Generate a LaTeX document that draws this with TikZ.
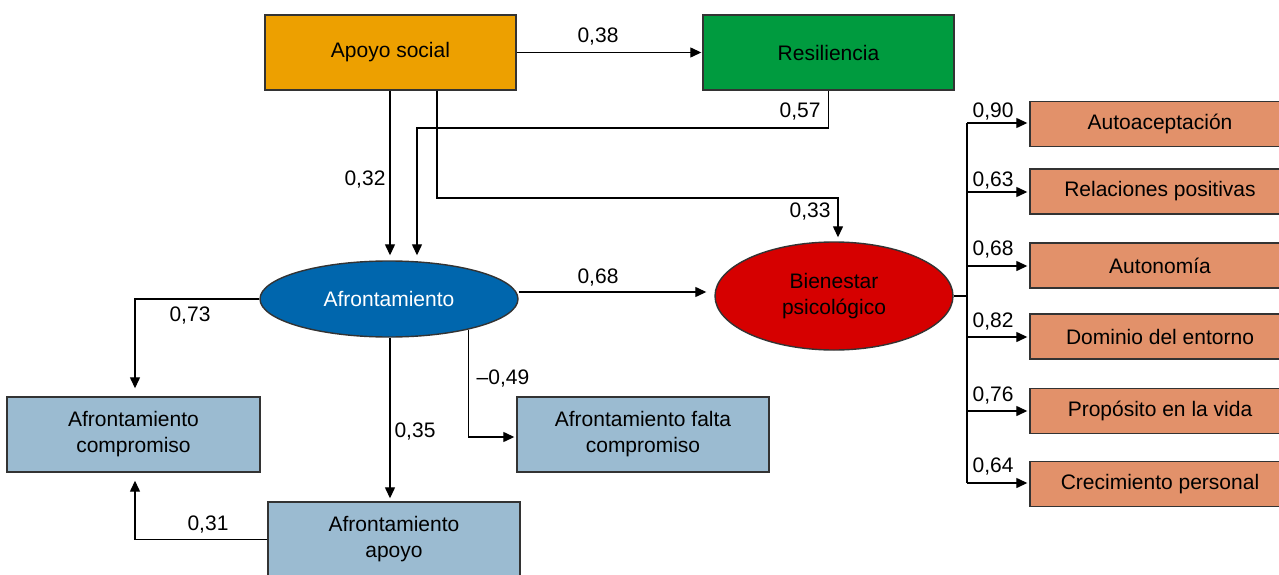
\documentclass[tikz,border=0pt]{standalone}
\usepackage{fontspec}
\setmainfont{Liberation Sans}
\usetikzlibrary{arrows.meta,shapes.geometric,calc}
\definecolor{cOrange}{HTML}{EDA000}
\definecolor{cGreen}{HTML}{009B3F}
\definecolor{cBlue}{HTML}{0066AD}
\definecolor{cRed}{HTML}{D60000}
\definecolor{cLight}{HTML}{9BBBD1}
\definecolor{cSalmon}{HTML}{E2916A}
\definecolor{cBorder}{HTML}{333333}
\tikzset{
  box/.style={draw=cBorder, line width=1.4pt, rectangle, minimum width=251pt, minimum height=75pt, inner sep=0pt, align=center, font=\fontsize{21}{26}\selectfont},
  ell/.style={draw=cBorder, line width=1.4pt, ellipse, inner sep=0pt, align=center, font=\fontsize{21}{26}\selectfont},
  dim/.style={draw=cBorder, line width=1.4pt, rectangle, minimum width=260pt, minimum height=45pt, inner sep=0pt, fill=cSalmon, font=\fontsize{21}{26}\selectfont},
  arr/.style={line width=1.3pt, -{Triangle[length=11pt,width=10pt]}},
  ln/.style={line width=1.3pt},
  lab/.style={font=\fontsize{21}{26}\selectfont, inner sep=0pt}
}
\begin{document}
\begin{tikzpicture}[x=1pt,y=-1pt]
\useasboundingbox (0,0) rectangle (1279,575);
% nodes
\node[box, fill=cOrange] (apoyo) at (390.5,52.5) {Apoyo social};
\node[box, fill=cGreen] (resil) at (828.5,52.5) {Resiliencia};
\node[ell, fill=cBlue, text=white, minimum width=258pt, minimum height=76pt] (afr) at (389,299) {Afrontamiento};
\node[ell, fill=cRed, minimum width=238pt, minimum height=108pt] (bien) at (834,296) {Bienestar\\psicológico};
\node[box, fill=cLight, minimum width=253pt] (comp) at (133.5,434.5) {Afrontamiento\\compromiso};
\node[box, fill=cLight, minimum width=252pt] (falta) at (643,434.5) {Afrontamiento falta\\compromiso};
\node[box, fill=cLight, minimum width=252pt] (apb) at (394,539.5) {Afrontamiento\\apoyo};
\node[dim] (d1) at (1160,124) {Autoaceptación};
\node[dim] (d2) at (1160,191.5) {Relaciones positivas};
\node[dim] (d3) at (1160,265.5) {Autonomía};
\node[dim] (d4) at (1160,336.5) {Dominio del entorno};
\node[dim] (d5) at (1160,411) {Propósito en la vida};
\node[dim] (d6) at (1160,484) {Crecimiento personal};
% coordinates
\coordinate (k1) at (417,128);
\coordinate (k2) at (437,198);
\coordinate (k3) at (838,198);
\coordinate (kt) at (967,296);
\coordinate (ka) at (135,299);
% connectors
\draw[arr, shorten >=1pt] (apoyo.east) -- (resil.west);
\draw[arr, shorten >=5pt] (apoyo.south -| 390,0) -- (afr.north -| 390,0);
\draw[arr, shorten >=5pt] (resil.south) |- (k1) -- (k1 |- afr.north);
\draw[arr, shorten >=4pt] (k2 |- apoyo.south) -- (k2) -- (k3) -- (k3 |- bien.north);
\draw[arr, shorten >=8pt] ([yshift=7pt]afr.east) -- ([yshift=7pt]afr.east -| bien.west);
\draw[arr, shorten >=8pt] (afr.west) -- (afr.west -| ka) -- (ka |- comp.north);
\draw[arr, shorten >=3pt] (afr.south -| 390,0) -- (apb.north -| 390,0);
\draw[arr, shorten >=2pt] (afr.-21) |- ([yshift=-2.5pt]falta.west);
\draw[arr, shorten >=8pt] (apb.west) -| (ka |- comp.south);
\draw[ln] (bien.east) -- (kt);
\draw[ln] (kt |- 0,123) -- (kt |- 0,483);
\foreach \d/\yy in {d1/123,d2/192,d3/266,d4/337,d5/411,d6/483}{
  \draw[arr, shorten >=2pt] (kt |- 0,\yy) -- (\d.west |- 0,\yy);
}
% labels
\node[lab] (l38) at (598,37) {0,38};
\node[lab] (l32) at (365,180) {0,32};
\node[lab] (l57) at (800,112) {0,57};
\node[lab] (l33) at (810,212) {0,33};
\node[lab] (l68) at (598,278) {0,68};
\node[lab] (l73) at (190,316) {0,73};
\node[lab] (l35) at (415,432) {0,35};
\node[lab] (l49) at (503,379) {–0,49};
\node[lab] (l31) at (208,525) {0,31};
\node[lab] (r1) at (993,112) {0,90};
\node[lab] (r2) at (993,181) {0,63};
\node[lab] (r3) at (993,250) {0,68};
\node[lab] (r4) at (993,322) {0,82};
\node[lab] (r5) at (993,396) {0,76};
\node[lab] (r6) at (993,467) {0,64};
\end{tikzpicture}
\end{document}
